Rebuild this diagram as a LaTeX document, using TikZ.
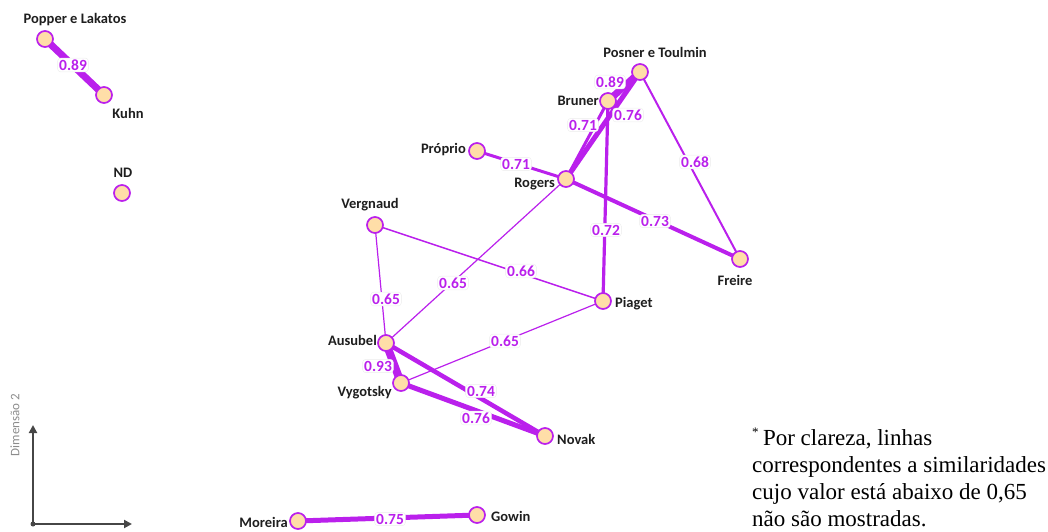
\documentclass[tikz,border=0pt]{standalone}
\usepackage{fontspec}
\setmainfont{Carlito}
\newfontfamily\notefont{Liberation Serif}
\usetikzlibrary{arrows.meta}
\definecolor{edgecol}{RGB}{186,32,236}
\definecolor{nodefill}{RGB}{255,222,168}
\definecolor{labcol}{RGB}{30,30,30}
\definecolor{axiscol}{RGB}{70,70,70}
\tikzset{
  vert/.style={circle,draw=edgecol,fill=nodefill,line width=1.7pt,minimum size=16pt,inner sep=0pt},
  vlab/.style={font=\bfseries\fontsize{14.5}{14.5}\selectfont,text=labcol,inner sep=1pt},
  edge/.style={draw=edgecol,line width=#1},
  elab/.style={font=\bfseries\fontsize{15.5}{15.5}\selectfont,text=edgecol,fill=white,rounded corners=3pt,draw=gray!15,line width=0.4pt,inner sep=1.5pt}
}
\begin{document}
\begin{tikzpicture}[x=1pt,y=-1pt]
\useasboundingbox (0,0) rectangle (1048,532);
% coordinates of vertices
\coordinate (cPop) at (45,39);
\coordinate (cKuhn) at (104,95);
\coordinate (cND) at (122,193);
\coordinate (cPos) at (640,72);
\coordinate (cBru) at (608,101);
\coordinate (cPro) at (477,151);
\coordinate (cRog) at (566,179);
\coordinate (cFre) at (740,259);
\coordinate (cVer) at (375,225);
\coordinate (cPia) at (603,301);
\coordinate (cAus) at (386,343);
\coordinate (cVyg) at (401,383);
\coordinate (cNov) at (545,436);
\coordinate (cMor) at (298,521);
\coordinate (cGow) at (477,515);
% edges
\draw[edge=1.2pt] (cRog) -- (cAus);
\draw[edge=1.2pt] (cVer) -- (cAus);
\draw[edge=1.2pt] (cPia) -- (cVyg);
\draw[edge=1.5pt] (cVer) -- (cPia);
\draw[edge=2pt] (cPos) -- (cFre);
\draw[edge=3.2pt] (cBru) -- (cPia);
\draw[edge=3pt] (cPro) -- (cRog);
\draw[edge=3pt] (cBru) -- (cRog);
\draw[edge=4pt] (cRog) -- (cFre);
\draw[edge=4.5pt] (cAus) -- (cNov);
\draw[edge=5pt] (cVyg) -- (cNov);
\draw[edge=5pt] (cPos) -- (cRog);
\draw[edge=5pt] (cMor) -- (cGow);
\draw[edge=7pt] (cPop) -- (cKuhn);
\draw[edge=7pt] (cPos) -- (cBru);
\draw[edge=8pt] (cAus) -- (cVyg);
% edge labels
\node[elab] at (73,65) {0.89};
\node[elab] at (610,82) {0.89};
\node[elab] at (583,125) {0.71};
\node[elab] at (628,115) {0.76};
\node[elab] at (606,230) {0.72};
\node[elab] at (695,162) {0.68};
\node[elab] at (516,164) {0.71};
\node[elab] at (655,221) {0.73};
\node[elab] at (453,283) {0.65};
\node[elab] at (521,271) {0.66};
\node[elab] at (386,299) {0.65};
\node[elab] at (505,341) {0.65};
\node[elab] at (378,366) {0.93};
\node[elab] at (481,391) {0.74};
\node[elab] at (476,418) {0.76};
\node[elab] at (390,519) {0.75};
% vertices
\node[vert] (Pop) at (cPop) {};
\node[vert] (Kuhn) at (cKuhn) {};
\node[vert] (ND) at (cND) {};
\node[vert] (Pos) at (cPos) {};
\node[vert] (Bru) at (cBru) {};
\node[vert] (Pro) at (cPro) {};
\node[vert] (Rog) at (cRog) {};
\node[vert] (Fre) at (cFre) {};
\node[vert] (Ver) at (cVer) {};
\node[vert] (Pia) at (cPia) {};
\node[vert] (Aus) at (cAus) {};
\node[vert] (Vyg) at (cVyg) {};
\node[vert] (Nov) at (cNov) {};
\node[vert] (Mor) at (cMor) {};
\node[vert] (Gow) at (cGow) {};
% vertex labels
\node[vlab] at (75,20) {Popper e Lakatos};
\node[vlab] at (128,113) {Kuhn};
\node[vlab] at (123,173) {ND};
\node[vlab] at (655,52) {Posner e Toulmin};
\node[vlab,anchor=east] at (600,101) {Bruner};
\node[vlab,anchor=east] at (467,150) {Próprio};
\node[vlab,anchor=east] at (556,184) {Rogers};
\node[vlab] at (735,280) {Freire};
\node[vlab] at (370,205) {Vergnaud};
\node[vlab,anchor=west] at (614,304) {Piaget};
\node[vlab,anchor=east] at (378,340) {Ausubel};
\node[vlab,anchor=east] at (393,393) {Vygotsky};
\node[vlab,anchor=west] at (556,439) {Novak};
\node[vlab,anchor=east] at (289,522) {Moreira};
\node[vlab,anchor=west] at (490,516) {Gowin};
% axes
\coordinate (O) at (33,524);
\coordinate (Yend) at (33,425);
\coordinate (Xend) at (132,524);
\draw[axiscol,line width=2.2pt,-{Triangle[length=8pt,width=8pt]}] (O) -- (Yend);
\draw[axiscol,line width=2.2pt,-{Triangle[length=8pt,width=8pt]}] (O) -- (Xend);
\fill[axiscol] (O) circle (2.5pt);
\node[rotate=90,text=gray!90,font=\fontsize{13}{13}\selectfont] at (15,425) {Dimensão 2};
% note
\node[anchor=north west,align=left,inner sep=0pt,font=\notefont\fontsize{23}{27}\selectfont] at (752,428)
{\textsuperscript{\fontsize{13}{13}\selectfont*}\,Por clareza, linhas\\correspondentes a similaridades\\cujo valor está abaixo de 0,65\\não são mostradas.};
\end{tikzpicture}
\end{document}
